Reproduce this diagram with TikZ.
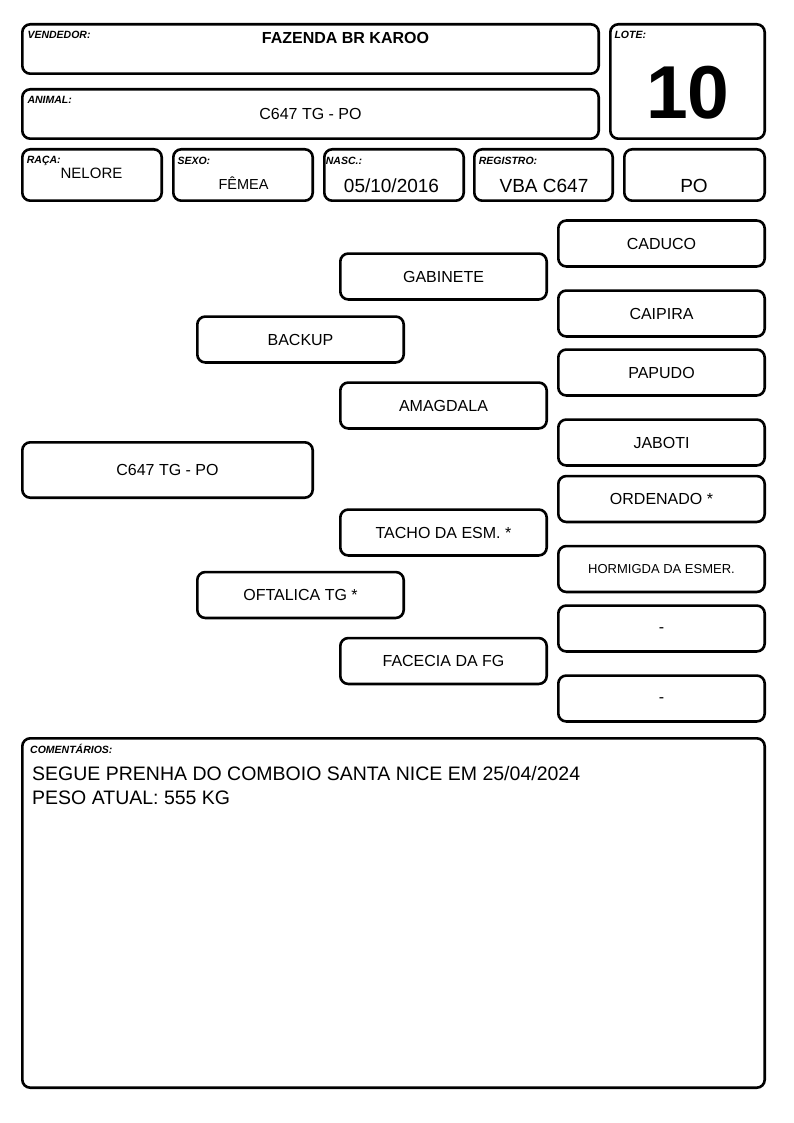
\documentclass[tikz,border=0pt]{standalone}
\usepackage{fontspec}
\setmainfont{Liberation Sans}
\begin{document}
\begin{tikzpicture}[x=1pt,y=-1pt,
  box/.style n args={2}{draw, line width=2.6pt, rounded corners=8pt, minimum width=#1-2.6pt, minimum height=#2-2.6pt, inner sep=0pt, anchor=center},
  ped/.style={box={209pt}{48.5pt}, font=\fontsize{16}{19}\selectfont},
  lab/.style={anchor=base west, inner sep=0pt, font=\fontsize{10.5}{12}\selectfont\bfseries\itshape},
  val/.style={anchor=base, inner sep=0pt}]
\useasboundingbox (0,0) rectangle (794,1123);
% header boxes
\node[box={579pt}{52pt}] (vend) at (310.5,49) {};
\node[box={579pt}{52pt}] (anim) at (310.5,114) {};
\node[box={157pt}{117pt}] (lote) at (687.5,81.5) {};
\node[box={142pt}{54pt}] (raca) at (92,175) {};
\node[box={142pt}{54pt}] (sexo) at (243,175) {};
\node[box={142pt}{54pt}] (nasc) at (394,175) {};
\node[box={141pt}{54pt}] (reg) at (543.5,175) {};
\node[box={143pt}{54pt}] (po) at (694.5,175) {};
% labels
\node[lab] (lvend) at (27.3,39) {VENDEDOR:};
\node[lab] (lanim) at (27.3,103.3) {ANIMAL:};
\node[lab] (llote) at (614.3,39) {LOTE:};
\node[lab] (lraca) at (26.7,163.3) {RAÇA:};
\node[lab] (lsexo) at (177.3,165) {SEXO:};
\node[lab] (lnasc) at (325.7,165) {NASC.:};
\node[lab] (lreg) at (478.7,165) {REGISTRO:};
% values
\node[val, font=\fontsize{16}{19}\selectfont\bfseries] (tvend) at (345.5,43.3) {FAZENDA BR KAROO};
\node[val, font=\fontsize{16}{19}\selectfont] (tanim) at (310.5,119.3) {C647 TG - PO};
\node[val, font=\fontsize{75}{80}\selectfont\bfseries] (tlote) at (688,119) {10};
\node[val, font=\fontsize{15}{18}\selectfont] (traca) at (91.5,178.3) {NELORE};
\node[val, font=\fontsize{14.5}{18}\selectfont] (tsexo) at (243.5,189.3) {FÊMEA};
\node[val, font=\fontsize{19}{22}\selectfont] (tnasc) at (391.5,192.7) {05/10/2016};
\node[val, font=\fontsize{19}{22}\selectfont] (treg) at (544,192.7) {VBA C647};
\node[val, font=\fontsize{19}{22}\selectfont] (tpo) at (694,192.3) {PO};
% pedigree
\node[box={293pt}{58pt}, font=\fontsize{16}{19}\selectfont] (main) at (167.5,470) {C647 TG - PO};
\node[ped] (backup) at (300.5,339.5) {BACKUP};
\node[ped] (oftalica) at (300.5,595) {OFTALICA TG *};
\node[ped] (gabinete) at (443.5,276.5) {GABINETE};
\node[ped] (amagdala) at (443.5,405.5) {AMAGDALA};
\node[ped] (tacho) at (443.5,532.5) {TACHO DA ESM. *};
\node[ped] (facecia) at (443.5,661) {FACECIA DA FG};
\node[ped] (caduco) at (661.5,243.5) {CADUCO};
\node[ped] (caipira) at (661.5,313.5) {CAIPIRA};
\node[ped] (papudo) at (661.5,372.5) {PAPUDO};
\node[ped] (jaboti) at (661.5,442.5) {JABOTI};
\node[ped] (ordenado) at (661.5,499) {ORDENADO *};
\node[ped, font=\fontsize{13}{16}\selectfont] (hormigda) at (661.5,569) {HORMIGDA DA ESMER.};
\node[ped] (dasha) at (661.5,628.5) {\rule{0pt}{8.8pt}-};
\node[ped] (dashb) at (661.5,698.5) {\rule{0pt}{8.8pt}-};
% comments
\node[box={745pt}{352pt}] (coment) at (393.5,913) {};
\node[lab] (lcoment) at (30,753.3) {COMENTÁRIOS:};
\node[val, anchor=base west, font=\fontsize{19.5}{23}\selectfont] (c1) at (32,780.7) {SEGUE PRENHA DO COMBOIO SANTA NICE EM 25/04/2024};
\node[val, anchor=base west, font=\fontsize{19.5}{23}\selectfont] (c2) at (32,804) {PESO ATUAL: 555 KG};
\end{tikzpicture}
\end{document}
